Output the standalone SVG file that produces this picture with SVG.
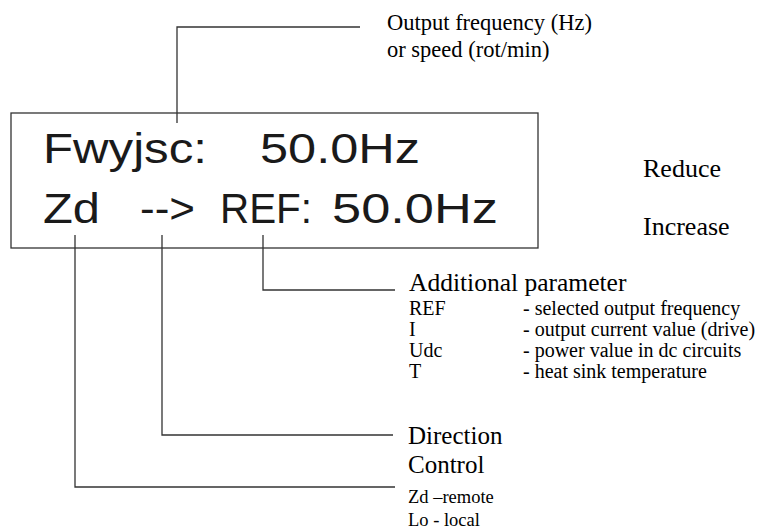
<svg xmlns="http://www.w3.org/2000/svg" width="762" height="529" viewBox="0 0 762 529">
<style>
.ln{fill:none;stroke:#333;stroke-width:1.3}
.lbl{font-family:"Liberation Serif","Times New Roman",serif;fill:#000}
.big{font-size:26px}
.ap{font-size:25.5px}
.dc{font-size:25px}
.mid{font-size:22.5px}
.sm{font-size:18.5px}
.lst{font-size:20px}
.lcd{font-family:"Liberation Sans",Arial,sans-serif;font-size:42px;fill:#1a1a1a}
</style>
<rect width="762" height="529" fill="#fff"/>
<g id="display">
<rect x="11" y="113" width="527" height="135" class="ln"/>
<text class="lcd" x="43" y="163" textLength="164" lengthAdjust="spacingAndGlyphs">Fwyjsc:</text>
<text class="lcd" x="260" y="163" textLength="160" lengthAdjust="spacingAndGlyphs">50.0Hz</text>
<text class="lcd" x="43" y="223" textLength="57" lengthAdjust="spacingAndGlyphs">Zd</text>
<text class="lcd" x="140" y="223" textLength="55" lengthAdjust="spacingAndGlyphs">--&gt;</text>
<text class="lcd" x="220" y="223" textLength="92" lengthAdjust="spacingAndGlyphs">REF:</text>
<text class="lcd" x="332" y="223" textLength="166" lengthAdjust="spacingAndGlyphs">50.0Hz</text>
</g>
<g id="connectors">
<polyline class="ln" points="360,27 177,27 177,123"/>
<polyline class="ln" points="263,235 263,290 395,290"/>
<polyline class="ln" points="162,235 162,435 393,435"/>
<polyline class="ln" points="75,235 75,487 395,487"/>
</g>
<g id="output-frequency">
<text class="lbl mid" x="387" y="30">Output frequency (Hz)</text>
<text class="lbl mid" x="387" y="57">or speed (rot/min)</text>
</g>
<g id="reduce"><text class="lbl big" x="643" y="177">Reduce</text></g>
<g id="increase"><text class="lbl big" x="643" y="235">Increase</text></g>
<g id="additional-parameter">
<text class="lbl ap" x="409" y="291">Additional parameter</text>
<text class="lbl lst" x="409" y="315">REF</text>
<text class="lbl lst" x="523" y="315">- selected output frequency</text>
<text class="lbl lst" x="409" y="336">I</text>
<text class="lbl lst" x="523" y="336">- output current value (drive)</text>
<text class="lbl lst" x="409" y="357">Udc</text>
<text class="lbl lst" x="523" y="357">- power value in dc circuits</text>
<text class="lbl lst" x="409" y="378">T</text>
<text class="lbl lst" x="523" y="378">- heat sink temperature</text>
</g>
<g id="direction"><text class="lbl dc" x="408" y="444">Direction</text></g>
<g id="control">
<text class="lbl dc" x="408" y="473">Control</text>
<text class="lbl sm" x="408" y="503">Zd –remote</text>
<text class="lbl sm" x="408" y="526">Lo - local</text>
</g>
</svg>
